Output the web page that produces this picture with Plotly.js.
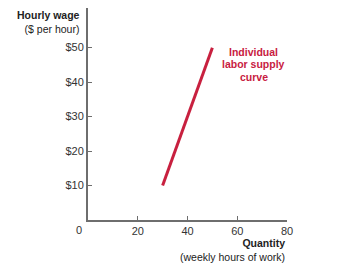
<!DOCTYPE html>
<html><head><meta charset="utf-8">
<script src="https://cdn.plot.ly/plotly-3.0.1.min.js"></script>
<style>html,body{margin:0;padding:0;background:#fff}#c{width:354px;height:278px}</style>
</head><body><div id="c"></div>
<script>
const quantity = [30, 50];
const wage = [10, 50];
const xTicks = [20, 40, 60, 80];
const xTickLabels = ['20', '40', '60', '80'];
const yTicks = [10, 20, 30, 40, 50];
const yTickLabels = ['$10', '$20', '$30', '$40', '$50'];
const curveLabel = ['Individual', 'labor supply', 'curve'];

const F = 'Liberation Sans, Arial, Helvetica, sans-serif';
const red = '#c8203f';
const trace = {x: quantity, y: wage, type: 'scatter', mode: 'lines',
  line: {color: red, width: 3}, hoverinfo: 'skip'};
const labelAnns = curveLabel.map((t, i) => ({
  xref: 'x', yref: 'y', x: 66.7, y: 48.85 - i * 3.63, xanchor: 'center', yanchor: 'middle',
  text: '<b>' + t + '</b>', showarrow: false,
  font: {family: F, size: 10.5, color: red}
}));
const layout = {
  width: 354, height: 278,
  margin: {l: 88, r: 67, t: 8, b: 58},
  paper_bgcolor: '#fff', plot_bgcolor: '#fff',
  showlegend: false,
  font: {family: F, size: 11, color: '#333'},
  xaxis: {range: [0, 80], tickvals: xTicks, ticktext: xTickLabels,
    showgrid: false, zeroline: false, showline: true, linecolor: '#6e6e6e', linewidth: 2,
    ticks: 'inside', ticklen: 4, tickcolor: '#6e6e6e', tickwidth: 1, fixedrange: true},
  yaxis: {range: [0, 61.5], tickvals: yTicks, ticktext: yTickLabels,
    showgrid: false, zeroline: false, showline: true, linecolor: '#6e6e6e', linewidth: 2,
    ticks: 'inside', ticklen: 4, tickcolor: '#6e6e6e', tickwidth: 1, fixedrange: true},
  annotations: [
    {xref: 'paper', yref: 'paper', x: -0.02, y: 0, xanchor: 'right', yanchor: 'top', yshift: -2,
     text: '0', showarrow: false, font: {family: F, size: 11, color: '#333'}},
    {xref: 'paper', yref: 'paper', x: -0.03, y: 1, xanchor: 'right', yanchor: 'top',
     align: 'right', yshift: 1,
     text: '<b>Hourly wage</b><br>($ per hour)', showarrow: false,
     font: {family: F, size: 10.5, color: '#222'}},
    {xref: 'paper', yref: 'paper', x: 1, y: 0, xanchor: 'right', yanchor: 'top',
     align: 'right', yshift: -15,
     text: '<b>Quantity</b><br>(weekly hours of work)', showarrow: false,
     font: {family: F, size: 10.5, color: '#222'}}
  ].concat(labelAnns)
};
Plotly.newPlot('c', [trace], layout, {staticPlot: true, displayModeBar: false});
</script></body></html>
